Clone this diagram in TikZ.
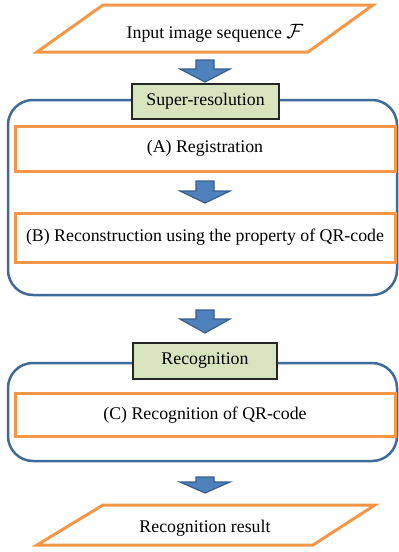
\documentclass[tikz,border=0pt]{standalone}
\usepackage{fontspec}
\usepackage{graphicx}
\setmainfont{Liberation Serif}
\definecolor{orng}{HTML}{F79646}
\definecolor{grpblue}{HTML}{3F6A9A}
\definecolor{arrfill}{HTML}{4F81BD}
\definecolor{arrline}{HTML}{385D8A}
\definecolor{lblfill}{HTML}{D7E4BD}
\newcommand{\blockarr}[4]{%
  \filldraw[arrowshape] (#1-9,#2) -- (#1+9,#2) -- (#1+9,#3) -- (#1+25,#3) -- (#1,#4) -- (#1-25,#3) -- (#1-9,#3) -- cycle;}
\begin{document}
\begin{tikzpicture}[x=1pt,y=-1pt,
  txt/.style={font=\fontsize{17.8}{20}\selectfont, inner sep=0pt},
  iobox/.style={draw=orng, line width=3pt, line join=miter},
  stepbox/.style={draw=orng, line width=3pt, minimum width=380pt, inner sep=0pt, font=\fontsize{17.8}{20}\selectfont},
  grp/.style={draw=grpblue, line width=2.5pt, rounded corners=25pt},
  lbl/.style={draw=black!85, fill=lblfill, line width=1.2pt, inner sep=0pt, font=\fontsize{17.8}{20}\selectfont},
  arrowshape/.style={fill=arrfill, draw=arrline, line width=1.2pt, line join=miter}]
\useasboundingbox (0,0) rectangle (399,552);
% input parallelogram
\draw[iobox] (103,5) -- (373,5) -- (308,52) -- (37,52) -- cycle;
\node[txt] (in) at (215,33) {Input image sequence \scalebox{1.2}{$\mathcal{F}$}};
\blockarr{205}{60}{69}{82}
% super-resolution group
\draw[grp] (8,100) rectangle (397,295);
\node[lbl, minimum width=147pt, minimum height=35pt] (sr) at (205.5,101.5) {Super-resolution};
\node[stepbox, minimum height=45pt] (A) at (205,148.5) {(A) Registration};
\blockarr{205}{181}{191}{203}
\node[stepbox, minimum height=49pt] (B) at (205,237.5) {(B) Reconstruction using the property of QR-code};
\blockarr{205}{310}{319}{333}
% recognition group
\draw[grp] (8,363) rectangle (397,461);
\node[lbl, minimum width=144pt, minimum height=36pt] (rg) at (205,361) {Recognition};
\node[stepbox, minimum height=43pt, text depth=2pt] (C) at (205,414.5) {(C) Recognition of QR-code};
\blockarr{205}{477}{482}{493}
% output parallelogram
\draw[iobox] (103,505) -- (375,505) -- (313,545) -- (37,545) -- cycle;
\node[txt] (out) at (205,528) {Recognition result};
\end{tikzpicture}
\end{document}
